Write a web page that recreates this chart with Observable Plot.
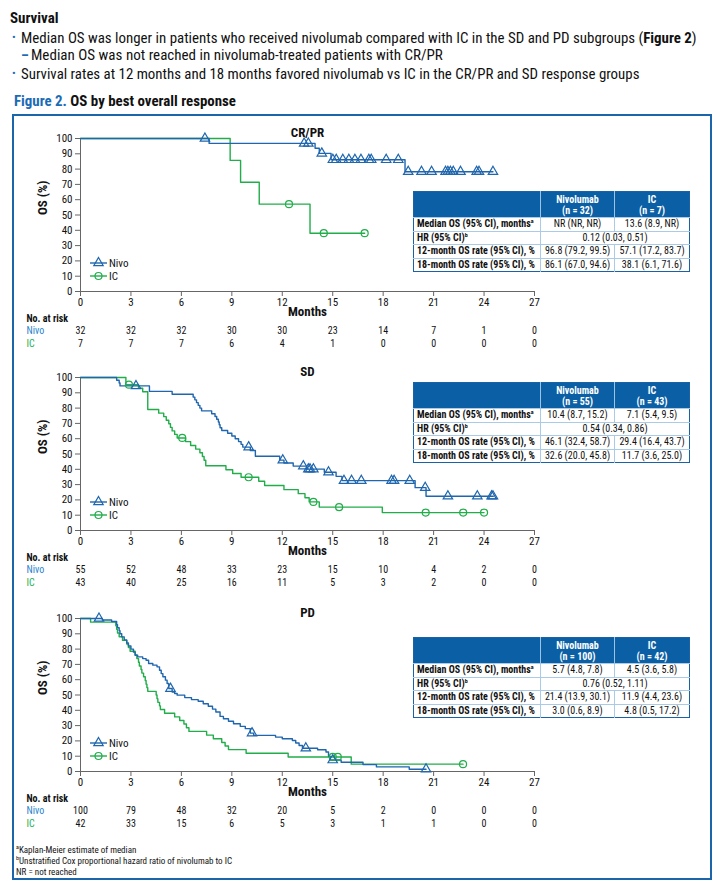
<!DOCTYPE html>
<html><head><meta charset="utf-8">
<script src="https://cdn.jsdelivr.net/npm/d3@7"></script>
<script src="https://cdn.jsdelivr.net/npm/@observablehq/plot@0.6"></script>
<style>
body{margin:0;background:#fff;}
#page{position:relative;width:720px;height:891px;overflow:hidden;font-family:"Liberation Sans Narrow","Roboto Condensed","DejaVu Sans Condensed","Arial Narrow",sans-serif;color:#111;}
.t{position:absolute;white-space:nowrap;font-size:14px;line-height:16px;}
.blue{color:#1b6bb5;}
#box{position:absolute;left:12px;top:114px;width:696px;height:762px;border:2px solid #1b65ab;}
.panel{position:absolute;left:0;}
table.st{position:absolute;left:413px;width:276px;border-collapse:collapse;table-layout:fixed;font-size:10px;border:1.5px solid #1a62a8;background:#fff;}
table.st th{background:#0b5fa5;color:#fff;font-weight:bold;border-left:1px solid #9cc3e4;height:25px;line-height:11px;padding:0;text-align:center;}
table.st td{border-top:1px solid #a9cbe8;border-left:1px solid #a9cbe8;height:12.6px;padding:0 3px;text-align:center;line-height:12px;white-space:nowrap;}
table.st td.l{font-weight:bold;text-align:left;border-left:none;}
sup{font-size:6px;vertical-align:4px;line-height:0;}
.fn{position:absolute;left:16px;font-size:9px;line-height:10px;white-space:nowrap;}
</style></head>
<body><div id="page"></div>
<script>
const FONT = '"Liberation Sans Narrow","Roboto Condensed","DejaVu Sans Condensed","Arial Narrow",sans-serif';
const NIVO = "#1f66ae", IC = "#20ad4a", NIVO_T = "#2a84cf", IC_T = "#22b04b";

// Axes
const monthTicks = [0, 3, 6, 9, 12, 15, 18, 21, 24, 27];
const pctTicks = [0, 10, 20, 30, 40, 50, 60, 70, 80, 90, 100];

// ---- CR/PR ----
const crprNivo = [[0,100],[7.65,96.8],[13.95,93.6],[14.2,90.3],[14.9,86.1],[19.3,78.3],[24.53,78.3]];
const crprNivoCens = [[7.4,100],[13.3,96.8],[13.55,96.8],[14.35,90.3],[15.01,86.1],[15.21,86.1],[15.6,86.1],[15.96,86.1],[16.32,86.1],[16.68,86.1],[17.15,86.1],[17.29,86.1],[18.18,86.1],[18.9,86.1],[19.49,78.3],[20.28,78.3],[20.88,78.3],[21.71,78.3],[21.85,78.3],[22.0,78.3],[22.17,78.3],[22.6,78.3],[23.56,78.3],[23.7,78.3],[24.53,78.3]];
const crprIC = [[0,100],[8.9,85.7],[9.52,71.4],[10.63,57.1],[13.65,38.1],[16.9,38.1]];
const crprICCens = [[12.4,57.1],[14.47,38.1],[16.9,38.1]];
const crprRiskNivo = [32, 32, 32, 30, 30, 23, 14, 7, 1, 0];
const crprRiskIC = [7, 7, 7, 6, 4, 1, 0, 0, 0, 0];

// ---- SD ----
const sdNivo = [[0,100],[2.15,98.2],[2.3,96.4],[2.35,94.5],[4.1,90.9],[5.45,89.1],[6.7,87.2],[6.8,85.4],[6.9,83.6],[7.0,81.8],[7.1,80.0],[7.2,78.2],[7.8,76.3],[8.0,74.5],[8.1,72.7],[8.2,70.9],[8.25,69.1],[8.3,67.2],[8.4,65.4],[8.75,63.6],[9.0,61.8],[9.2,60.0],[9.4,58.1],[9.55,56.3],[9.65,54.5],[10.1,52.3],[10.4,48.5],[11.85,46.0],[12.1,44.1],[12.65,42.1],[13.45,40.1],[14.5,38.1],[15.2,35.4],[15.55,32.6],[19.9,28.0],[20.55,22.4],[24.55,22.4]];
const sdNivoCens = [[3.3,94.5],[10.0,54.5],[12.03,46.0],[13.25,42.1],[13.55,40.1],[13.65,40.1],[13.85,40.1],[14.75,38.1],[15.67,32.6],[16.12,32.6],[16.7,32.6],[18.5,32.6],[18.65,32.6],[19.58,32.6],[20.5,28.0],[21.85,22.4],[23.6,22.4],[24.45,22.4],[24.53,22.4]];
const sdIC = [[0,100],[2.7,95.3],[3.45,93.0],[3.7,90.7],[4.0,79.1],[4.65,76.7],[4.95,74.4],[5.1,72.1],[5.25,69.8],[5.35,67.4],[5.45,65.1],[5.6,62.8],[5.75,60.5],[6.25,58.1],[6.55,55.6],[6.85,53.2],[7.1,50.8],[7.25,48.4],[7.35,45.9],[7.45,42.3],[8.65,39.7],[9.05,37.3],[9.55,34.8],[10.6,32.2],[10.95,29.4],[12.1,26.7],[12.95,24.1],[13.35,21.4],[13.6,18.7],[14.2,15.3],[17.95,11.7],[24.0,11.7]];
const sdICCens = [[2.88,95.3],[6.05,60.5],[10.0,34.8],[13.85,18.7],[15.38,15.3],[20.53,11.7],[22.76,11.7],[24.0,11.7]];
const sdRiskNivo = [55, 52, 48, 33, 23, 15, 10, 4, 2, 0];
const sdRiskIC = [43, 40, 25, 16, 11, 5, 3, 2, 0, 0];

// ---- PD ----
const pdNivo = [[0,100],[1.3,99.0],[1.85,98.0],[2.15,96.0],[2.2,94.0],[2.3,92.0],[2.35,90.0],[2.45,88.0],[2.6,86.0],[2.75,84.0],[2.85,82.0],[3.0,80.0],[3.15,78.0],[3.25,76.0],[3.4,74.9],[3.7,73.8],[3.9,72.7],[4.05,70.6],[4.3,69.5],[4.55,68.4],[4.7,66.2],[4.8,64.0],[4.9,61.9],[5.05,59.7],[5.15,57.5],[5.25,54.2],[5.45,52.0],[5.6,51.0],[5.75,49.9],[6.2,48.3],[6.6,47.0],[7.0,45.9],[7.3,44.3],[7.6,42.6],[7.85,40.8],[8.05,38.9],[8.3,36.0],[8.5,34.5],[8.8,32.8],[9.1,31.2],[9.5,29.5],[9.8,28.0],[10.1,25.1],[10.3,23.6],[11.6,22.5],[12.0,21.4],[12.6,20.3],[12.8,18.6],[13.0,17.0],[13.2,15.2],[14.1,14.2],[14.6,12.7],[14.75,10.0],[14.85,7.5],[15.5,6.0],[16.8,4.5],[17.6,3.0],[19.55,1.5],[20.55,1.5]];
const pdNivoCens = [[1.1,100],[5.35,54.2],[10.2,25.1],[13.4,15.2],[15.0,7.5],[20.55,1.5]];
const pdIC = [[0,100],[0.6,97.6],[2.1,95.2],[2.15,92.9],[2.2,90.5],[2.3,88.1],[2.5,85.7],[2.75,83.3],[2.85,81.0],[2.95,78.6],[3.25,76.2],[3.35,73.8],[3.45,71.4],[3.5,69.0],[3.6,66.7],[3.65,64.3],[3.75,61.9],[3.85,59.5],[3.9,57.1],[3.95,54.8],[4.0,52.4],[4.5,50.0],[4.55,47.6],[4.6,45.2],[4.7,42.9],[4.75,40.5],[5.0,38.1],[5.6,35.7],[5.9,33.3],[6.15,31.0],[6.3,28.6],[6.45,26.2],[7.5,23.8],[7.9,21.4],[8.4,19.0],[8.6,16.7],[8.8,14.3],[9.85,11.9],[12.35,9.5],[16.1,4.8],[22.75,4.8]];
const pdICCens = [[15.0,9.5],[15.3,9.5],[22.75,4.8]];
const pdRiskNivo = [100, 79, 48, 32, 20, 5, 2, 0, 0, 0];
const pdRiskIC = [42, 33, 15, 6, 5, 3, 1, 1, 0, 0];

// ---- Tables ----
const rowLabels = ["Median OS (95% CI), months<sup>a</sup>", "HR (95% CI)<sup>b</sup>", "12-month OS rate (95% CI), %", "18-month OS rate (95% CI), %"];
const crprN = [32, 7], crprMedian = ["NR (NR, NR)", "13.6 (8.9, NR)"], crprHR = "0.12 (0.03, 0.51)", crpr12 = ["96.8 (79.2, 99.5)", "57.1 (17.2, 83.7)"], crpr18 = ["86.1 (67.0, 94.6)", "38.1 (6.1, 71.6)"];
const sdN = [55, 43], sdMedian = ["10.4 (8.7, 15.2)", "7.1 (5.4, 9.5)"], sdHR = "0.54 (0.34, 0.86)", sd12 = ["46.1 (32.4, 58.7)", "29.4 (16.4, 43.7)"], sd18 = ["32.6 (20.0, 45.8)", "11.7 (3.6, 25.0)"];
const pdN = [100, 42], pdMedian = ["5.7 (4.8, 7.8)", "4.5 (3.6, 5.8)"], pdHR = "0.76 (0.52, 1.11)", pd12 = ["21.4 (13.9, 30.1)", "11.9 (4.4, 23.6)"], pd18 = ["3.0 (0.6, 8.9)", "4.8 (0.5, 17.2)"];

const page = document.getElementById("page");
page.insertAdjacentHTML("beforeend", `
<div class="t" style="top:10px;left:10px;font-weight:bold;font-size:15px">Survival</div>
<div class="t blue" style="top:30px;left:12px;font-size:11px">•</div>
<div class="t fit" data-w="676" style="top:30px;left:21px">Median OS was longer in patients who received nivolumab compared with IC in the SD and PD subgroups (<b>Figure 2</b>)</div>
<div class="t blue" style="top:47px;left:21px;font-weight:bold">–</div>
<div class="t fit" data-w="412" style="top:47px;left:31px">Median OS was not reached in nivolumab-treated patients with CR/PR</div>
<div class="t blue" style="top:66px;left:12px;font-size:11px">•</div>
<div class="t fit" data-w="619" style="top:66px;left:21px">Survival rates at 12 months and 18 months favored nivolumab vs IC in the CR/PR and SD response groups</div>
<div class="t fit" data-w="222" style="top:93px;left:14px;font-weight:bold;font-size:15px"><span class="blue">Figure 2.</span> OS by best overall response</div>
<div id="box"></div>
`);

function panel(title, nivo, nivoC, ic, icC, riskNivo, riskIC, top) {
  const xy = {x: d => d[0], y: d => d[1]};
  const chart = Plot.plot({
    width: 720, height: 240,
    marginLeft: 80, marginRight: 186, marginTop: 20, marginBottom: 67,
    style: {background: "none", fontFamily: FONT, fontSize: "11px", overflow: "visible", color: "#111"},
    x: {domain: [0, 27]},
    y: {domain: [0, 100]},
    marks: [
      Plot.axisX({ticks: monthTicks, tickSize: 5, tickPadding: 2, label: null, fontSize: 11, stroke: "#666"}),
      Plot.axisY({ticks: pctTicks, tickSize: 5, tickPadding: 3, label: null, fontSize: 11, stroke: "#666"}),
      Plot.ruleX([0], {stroke: "#666"}),
      Plot.ruleY([0], {stroke: "#666"}),
      Plot.line(ic, {...xy, curve: "step-after", stroke: IC, strokeWidth: 1.4}),
      Plot.line(nivo, {...xy, curve: "step-after", stroke: NIVO, strokeWidth: 1.4}),
      Plot.dot(icC, {...xy, symbol: "circle", r: 3.5, stroke: IC, fill: "none", strokeWidth: 1.2}),
      Plot.dot(nivoC, {...xy, symbol: "triangle", r: 3.5, stroke: NIVO, fill: "none", strokeWidth: 1.2}),
      Plot.text([title], {text: d => d, frameAnchor: "top", dy: -11, fontWeight: "bold", fontSize: 13}),
      Plot.text(["OS (%)"], {text: d => d, frameAnchor: "left", rotate: -90, dx: -38, fontWeight: "bold", fontSize: 13}),
      Plot.text(["Months"], {text: d => d, frameAnchor: "bottom", dy: 24, fontWeight: "bold", fontSize: 13}),
      Plot.text(["No. at risk"], {text: d => d, frameAnchor: "bottom-left", dx: -54, dy: 30.5, textAnchor: "start", fontWeight: "bold", fontSize: 10}),
      Plot.text(["Nivo"], {text: d => d, frameAnchor: "bottom-left", dx: -54, dy: 42, textAnchor: "start", fill: NIVO_T, fontSize: 10}),
      Plot.text(["IC"], {text: d => d, frameAnchor: "bottom-left", dx: -54, dy: 55.5, textAnchor: "start", fill: IC_T, fontSize: 10}),
      Plot.text(riskNivo, {x: (d, i) => monthTicks[i], text: d => d, frameAnchor: "bottom", dy: 42, fontSize: 10}),
      Plot.text(riskIC, {x: (d, i) => monthTicks[i], text: d => d, frameAnchor: "bottom", dy: 55.5, fontSize: 10})
    ]
  });
  const wrap = document.createElement("div");
  wrap.className = "panel";
  wrap.style.top = top + "px";
  wrap.appendChild(chart);
  page.appendChild(wrap);
  // legend
  const ly = top + 240 - 67 - 28;
  const tri = d3.symbol(d3.symbolTriangle, Math.PI * 3.5 * 3.5)();
  const cir = d3.symbol(d3.symbolCircle, Math.PI * 3.5 * 3.5)();
  page.insertAdjacentHTML("beforeend", `
  <svg style="position:absolute;left:88px;top:${ly - 7}px;overflow:visible" width="60" height="28">
    <line x1="2" x2="19" y1="7" y2="7" stroke="${NIVO}" stroke-width="1.4"/>
    <path d="${tri}" transform="translate(10.5,7)" fill="none" stroke="${NIVO}" stroke-width="1.2"/>
    <text x="21" y="7" dy="0.35em" font-size="11" font-family='${FONT}' fill="#111">Nivo</text>
    <line x1="2" x2="19" y1="20" y2="20" stroke="${IC}" stroke-width="1.4"/>
    <path d="${cir}" transform="translate(10.5,20)" fill="none" stroke="${IC}" stroke-width="1.2"/>
    <text x="21" y="20" dy="0.35em" font-size="11" font-family='${FONT}' fill="#111">IC</text>
  </svg>`);
}

function table(top, n, median, hr, r12, r18) {
  page.insertAdjacentHTML("beforeend", `
  <table class="st" style="top:${top}px">
    <colgroup><col style="width:127px"><col style="width:74px"><col style="width:75px"></colgroup>
    <tr><th style="border-left:none"></th><th>Nivolumab<br>(n = ${n[0]})</th><th>IC<br>(n = ${n[1]})</th></tr>
    <tr><td class="l">${rowLabels[0]}</td><td>${median[0]}</td><td>${median[1]}</td></tr>
    <tr><td class="l">${rowLabels[1]}</td><td colspan="2">${hr}</td></tr>
    <tr><td class="l">${rowLabels[2]}</td><td>${r12[0]}</td><td>${r12[1]}</td></tr>
    <tr><td class="l">${rowLabels[3]}</td><td>${r18[0]}</td><td>${r18[1]}</td></tr>
  </table>`);
}

panel("CR/PR", crprNivo, crprNivoCens, crprIC, crprICCens, crprRiskNivo, crprRiskIC, 118);
panel("SD", sdNivo, sdNivoCens, sdIC, sdICCens, sdRiskNivo, sdRiskIC, 357);
panel("PD", pdNivo, pdNivoCens, pdIC, pdICCens, pdRiskNivo, pdRiskIC, 598);
table(191, crprN, crprMedian, crprHR, crpr12, crpr18);
table(382, sdN, sdMedian, sdHR, sd12, sd18);
table(637, pdN, pdMedian, pdHR, pd12, pd18);

page.insertAdjacentHTML("beforeend", `
<div class="fn" style="top:845px"><sup>a</sup>Kaplan-Meier estimate of median</div>
<div class="fn" style="top:856px"><sup>b</sup>Unstratified Cox proportional hazard ratio of nivolumab to IC</div>
<div class="fn" style="top:867px">NR = not reached</div>
`);

// fit header lines to the reference widths
document.querySelectorAll(".fit").forEach(el => {
  const target = +el.dataset.w;
  const w = el.getBoundingClientRect().width;
  const fs = parseFloat(getComputedStyle(el).fontSize);
  if (w > 0) el.style.fontSize = (fs * target / w).toFixed(2) + "px";
});
</script>
</body></html>
